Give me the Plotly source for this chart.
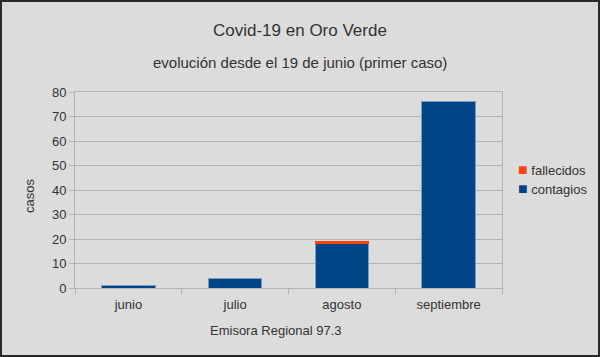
import plotly.graph_objects as go

meses = ["junio", "julio", "agosto", "septiembre"]
contagios = [1, 4, 18, 76]
fallecidos = [0, 0, 1, 0]
series_names = ["contagios", "fallecidos"]
series_colors = ["#004586", "#ff420e"]

W, H = 600, 357
L, R, T, B = 75, 98, 92, 69
w_plot = W - L - R
h_plot = H - T - B


def px_x(x):
    return (x - L) / w_plot


def px_y(y):
    return (H - B - y) / h_plot


fig = go.Figure()
fig.add_trace(go.Bar(x=meses, y=contagios, name=series_names[0],
                     marker=dict(color=series_colors[0], line=dict(color="#7a9cc0", width=1))))
fig.add_trace(go.Bar(x=meses, y=fallecidos, name=series_names[1],
                     marker=dict(color=series_colors[1], line=dict(width=0))))

txt = "#333333"
annotations = [
    dict(text="Covid-19 en Oro Verde", x=px_x(300), y=px_y(30), xref="paper", yref="paper",
         showarrow=False, yanchor="middle", font=dict(size=17, color=txt)),
    dict(text="evolución desde el 19 de junio (primer caso)", x=px_x(300), y=px_y(63),
         xref="paper", yref="paper", showarrow=False, yanchor="middle",
         font=dict(size=15, color=txt)),
    dict(text="Emisora Regional 97.3", x=px_x(276), y=px_y(330), xref="paper", yref="paper",
         showarrow=False, yanchor="middle", font=dict(size=13, color=txt)),
    dict(text="casos", x=px_x(29), y=px_y(196), xref="paper", yref="paper",
         showarrow=False, textangle=-90, xanchor="center", yanchor="middle",
         font=dict(size=13, color=txt)),
]
# legend (reversed order: fallecidos on top)
for i, (name, col) in enumerate(zip(reversed(series_names), reversed(series_colors))):
    annotations.append(dict(
        text=f'<span style="color:{col};font-size:16px">■</span> {name}',
        x=px_x(516), y=px_y(169 + 19.5 * i), xref="paper", yref="paper",
        showarrow=False, xanchor="left", yanchor="middle",
        font=dict(size=13, color=txt)))

fig.update_layout(
    width=W, height=H,
    barmode="stack", bargap=0.5,
    paper_bgcolor="#dcdcdc", plot_bgcolor="#dcdcdc",
    font=dict(family="Liberation Sans, Arial, sans-serif", size=13, color=txt),
    margin=dict(l=L, r=R, t=T, b=B, autoexpand=False),
    showlegend=False,
    annotations=annotations,
)

fig.update_xaxes(
    showgrid=False, showline=True, linecolor="#b3b3b3", linewidth=1,
    ticks="outside", ticklen=5, tickcolor="#b3b3b3", tickson="boundaries",
    tickfont=dict(size=13, color=txt), automargin=False, ticklabelstandoff=4,
    mirror=True,
)
fig.update_yaxes(
    range=[0, 80], dtick=10, showgrid=True, gridcolor="#b3b3b3", gridwidth=1,
    showline=True, linecolor="#b3b3b3", linewidth=1, mirror=True,
    ticks="outside", ticklen=5, tickcolor="#b3b3b3",
    tickfont=dict(size=13, color=txt), automargin=False,
    zeroline=False,
)

fig.add_shape(type="rect", xref="paper", yref="paper",
              x0=px_x(1), x1=px_x(W - 1), y0=px_y(H - 1), y1=px_y(1),
              line=dict(color="#2a2a2a", width=2), layer="above")

fig.write_html("out.html", config={"displayModeBar": False},
               post_script="document.body.style.margin='0';document.body.style.overflow='hidden';")
